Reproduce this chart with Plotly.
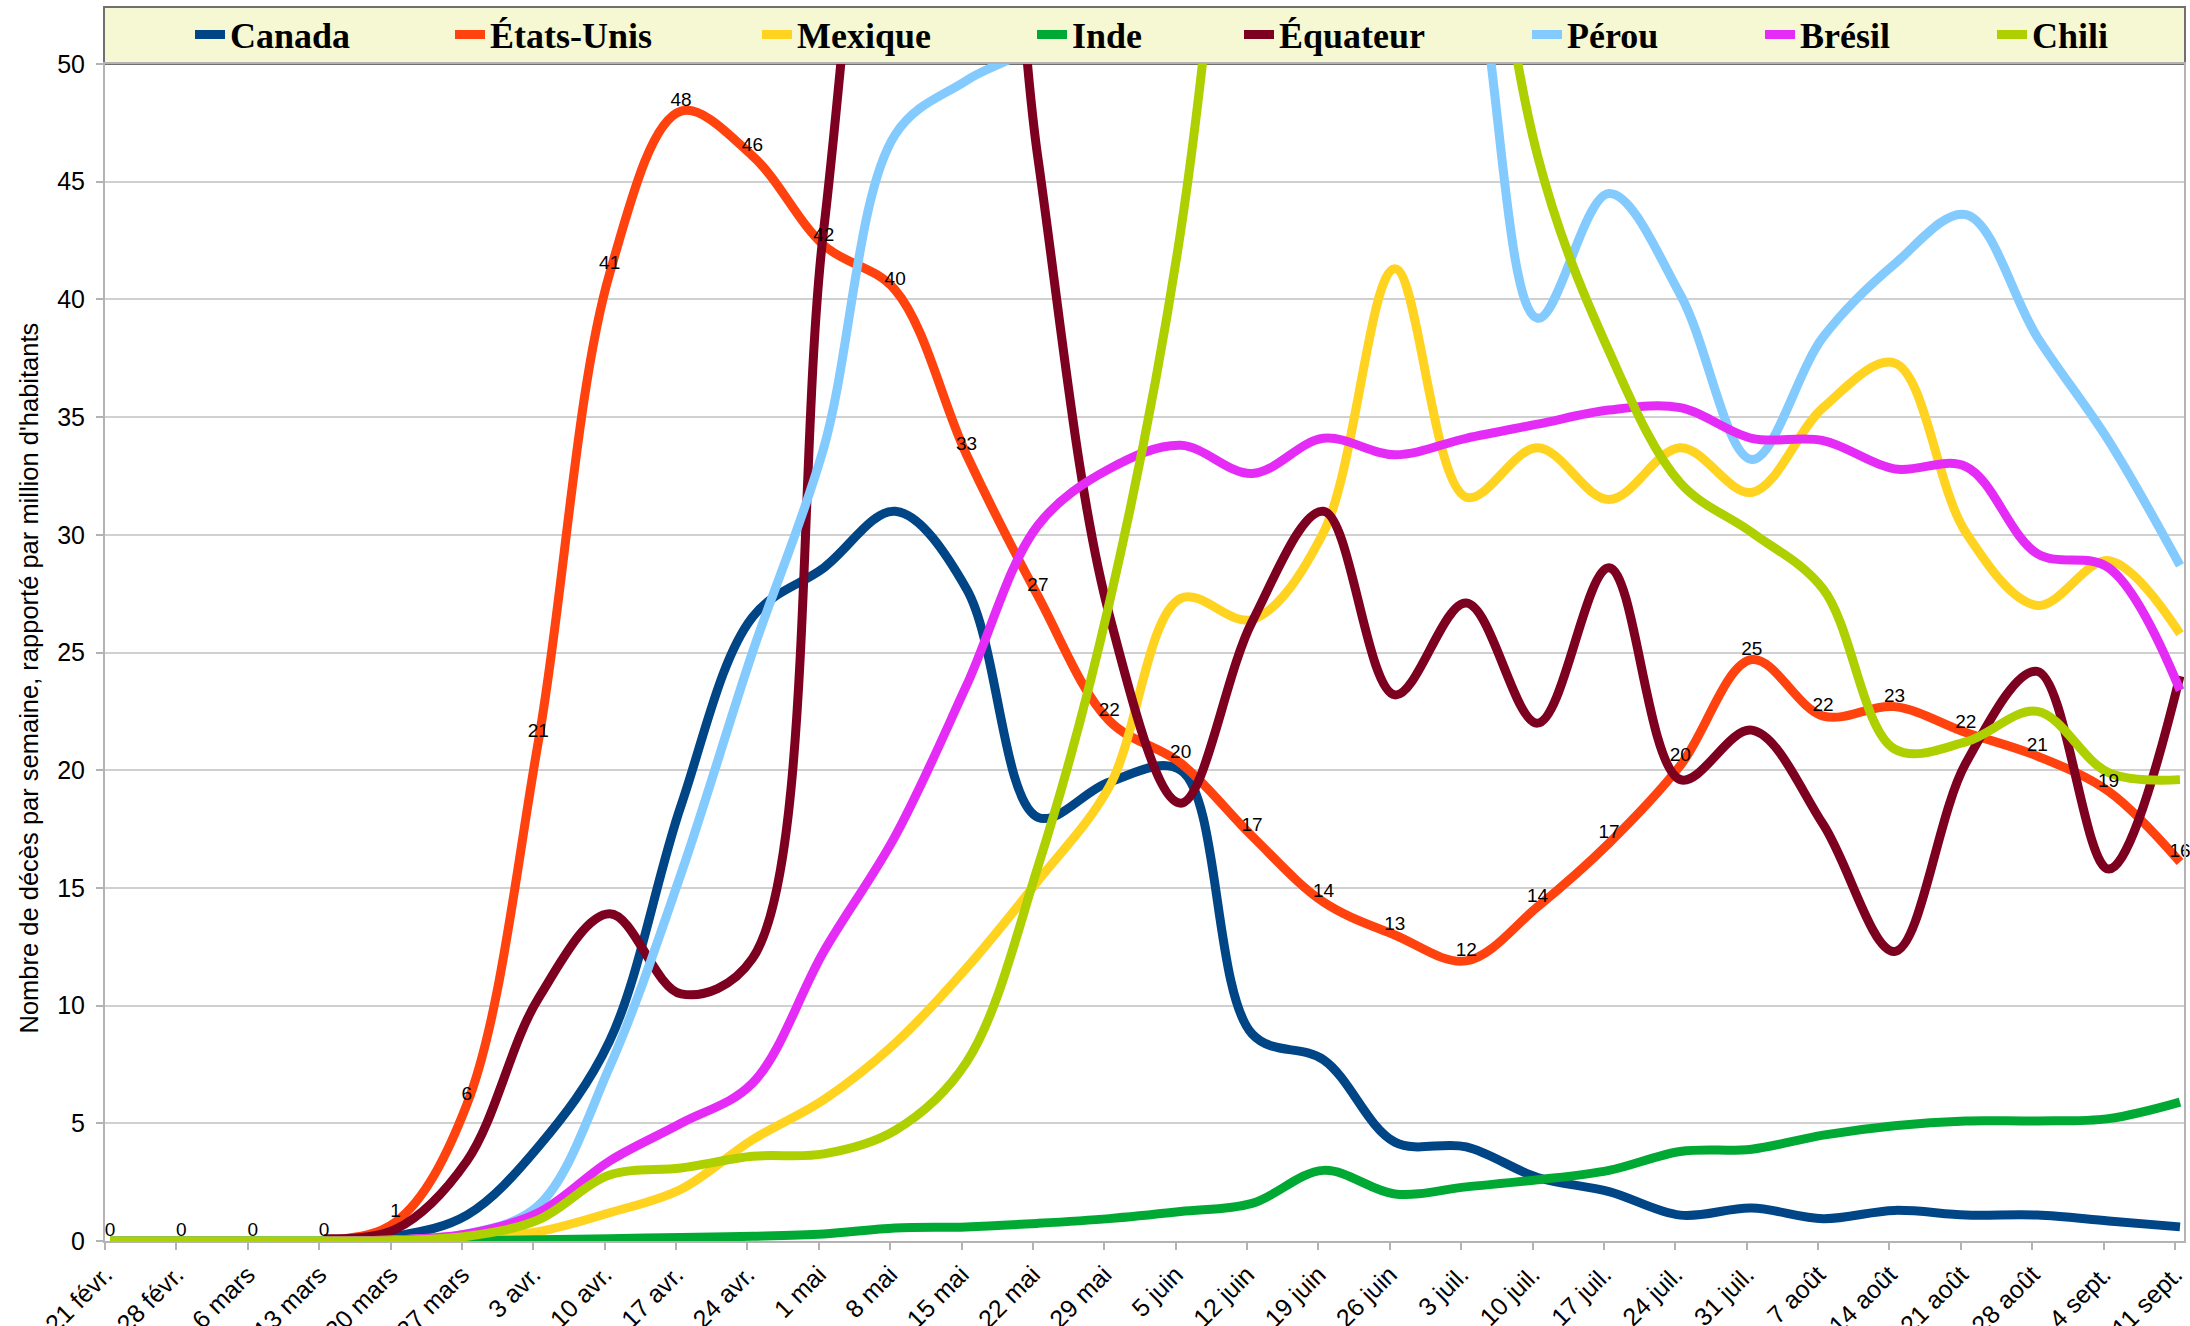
import plotly.graph_objects as go

dates = ["21 févr.", "28 févr.", "6 mars", "13 mars", "20 mars", "27 mars", "3 avr.", "10 avr.",
         "17 avr.", "24 avr.", "1 mai", "8 mai", "15 mai", "22 mai", "29 mai", "5 juin", "12 juin",
         "19 juin", "26 juin", "3 juil.", "10 juil.", "17 juil.", "24 juil.", "31 juil.", "7 août",
         "14 août", "21 août", "28 août", "4 sept.", "11 sept."]

canada = [0, 0, 0, 0, 0.2, 1.1, 4.0, 8.5, 18.5, 26.5, 28.6, 31.0, 27.7, 18.0, 19.5, 20.0, 8.8, 7.7,
          4.2, 4.0, 2.7, 2.1, 1.1, 1.4, 0.95, 1.3, 1.1, 1.1, 0.85, 0.6]
etats_unis = [0, 0, 0, 0, 0.8, 5.8, 21.2, 41.1, 48.0, 46.1, 42.3, 40.4, 33.4, 27.4, 22.1, 20.3, 17.2,
              14.4, 13.0, 11.9, 14.2, 16.9, 20.2, 24.7, 22.3, 22.7, 21.6, 20.6, 19.1, 16.1]
mexique = [0, 0, 0, 0, 0.05, 0.15, 0.4, 1.2, 2.2, 4.3, 6.0, 8.4, 11.6, 15.3, 19.3, 27.3, 26.4, 30.1,
           41.3, 31.6, 33.7, 31.5, 33.7, 31.8, 35.4, 37.3, 30.1, 27.0, 28.9, 25.8]
inde = [0, 0, 0, 0, 0.01, 0.02, 0.05, 0.1, 0.15, 0.2, 0.3, 0.55, 0.6, 0.75, 0.95, 1.25, 1.6, 3.0,
        2.0, 2.3, 2.6, 3.0, 3.8, 3.9, 4.5, 4.9, 5.1, 5.1, 5.2, 5.9]
equateur = [None, None, None, 0.1, 0.5, 3.4, 10.3, 13.9, 10.5, 12.0, 43, 65, 70, 46, 26.6, 18.6,
            26.3, 31.0, 23.2, 27.1, 22.0, 28.6, 19.6, 21.7, 17.7, 12.3, 20.3, 24.2, 15.8, 24.0]
perou = [0, 0, 0, 0, 0.05, 0.3, 1.5, 7.4, 15.6, 25.0, 33.7, 47.0, 49.3, 51, 56, 58, 57, 60, 62, 56,
         39.2, 44.5, 40.2, 33.2, 38.4, 41.5, 43.6, 38.4, 34.0, 28.7]
bresil = [None, None, None, 0, 0.05, 0.3, 1.2, 3.4, 5.0, 6.7, 12.3, 17.2, 23.6, 30.4, 32.8, 33.8,
          32.6, 34.1, 33.4, 34.1, 34.7, 35.3, 35.4, 34.1, 34.0, 32.8, 32.9, 29.2, 28.6, 23.4]
chili = [0, 0, 0, 0, 0.02, 0.2, 0.9, 2.8, 3.1, 3.6, 3.7, 4.7, 7.6, 15.9, 27.1, 42.9, 70, 95, 85, 65,
         46.1, 37.8, 32.2, 30.1, 27.7, 20.9, 21.2, 22.5, 19.9, 19.6]

names = ["Canada", "États-Unis", "Mexique", "Inde", "Équateur", "Pérou", "Brésil", "Chili"]
series = [canada, etats_unis, mexique, inde, equateur, perou, bresil, chili]
colors = ["#004586", "#ff420e", "#ffd320", "#00a933", "#7e0021", "#83caff", "#e52cf7", "#aecf00"]
legend_text_px = [230, 490, 797, 1072, 1279, 1567, 1800, 2032]

W, H = 2190, 1326
ML, MR, MT, MB = 105, 6, 63, 85
PW, PH = W - ML - MR, H - MT - MB

x = list(range(len(dates)))
X0, X1 = -0.07, 29.056

fig = go.Figure()
for k, (nm, ys, col) in enumerate(zip(names, series, colors)):
    lg = "legend" if k == 0 else f"legend{k + 1}"
    fig.add_trace(go.Scatter(
        x=x, y=ys, name=nm, mode="lines",
        line=dict(color=col, width=9, shape="spline", smoothing=1.0),
        legend=lg, connectgaps=False, hoverinfo="skip"))

# US data labels on top
fig.add_trace(go.Scatter(
    x=x, y=etats_unis, mode="text", texttemplate="%{y:.0f}", textposition="top center",
    textfont=dict(family="Liberation Sans", size=19, color="#000000"),
    showlegend=False, cliponaxis=False, hoverinfo="skip"))

layout_legends = {}
for k in range(len(names)):
    key = "legend" if k == 0 else f"legend{k + 1}"
    layout_legends[key] = dict(
        x=(legend_text_px[k] - 40 - ML) / PW, xanchor="left",
        y=(H - MB - 34.5) / PH, yanchor="middle",
        orientation="h", bgcolor="rgba(0,0,0,0)", borderwidth=0,
        font=dict(family="Liberation Serif", size=36, color="#000000", weight="bold"),
        itemclick=False, itemdoubleclick=False)

fig.update_layout(
    width=W, height=H,
    margin=dict(l=ML, r=MR, t=MT, b=MB, pad=0),
    paper_bgcolor="#ffffff", plot_bgcolor="#ffffff",
    font=dict(family="Liberation Sans", size=25, color="#000000"),
    showlegend=True,
    **layout_legends,
    xaxis=dict(
        range=[X0, X1], tickmode="array",
        tickvals=[i - 0.07 for i in x], ticktext=dates, tickangle=-45,
        ticks="outside", ticklen=7, tickwidth=2, tickcolor="#b3b3b3",
        showline=True, linecolor="#b3b3b3", linewidth=2, mirror=True,
        showgrid=False, zeroline=False, automargin=False,
        tickfont=dict(family="Liberation Sans", size=25, color="#000000")),
    yaxis=dict(
        range=[0, 50], dtick=5, tick0=0,
        ticks="outside", ticklen=7, tickwidth=2, tickcolor="#b3b3b3",
        showline=True, linecolor="#b3b3b3", linewidth=2, mirror=True,
        showgrid=True, gridcolor="#d0d0d0", gridwidth=1.5,
        zeroline=False, automargin=False, ticklabelstandoff=6,
        tickfont=dict(family="Liberation Sans", size=25, color="#000000")),
    shapes=[dict(
        type="rect", xref="paper", yref="paper",
        x0=(104 - ML) / PW, x1=(2185 - ML) / PW,
        y0=(H - MB - 63) / PH, y1=(H - MB - 6) / PH,
        fillcolor="#f5f8d3", line=dict(color="#707070", width=2), layer="below")],
    annotations=[dict(
        text="Nombre de décès par semaine, rapporté par million d'habitants",
        xref="paper", yref="paper",
        x=(29 - ML) / PW, y=(H - MB - 678) / PH,
        xanchor="center", yanchor="middle", textangle=-90, showarrow=False,
        font=dict(family="Liberation Sans", size=25.5, color="#000000"))],
)

fig.write_html("out.html", config={"displayModeBar": False},
               post_script="document.body.style.margin='0';")
